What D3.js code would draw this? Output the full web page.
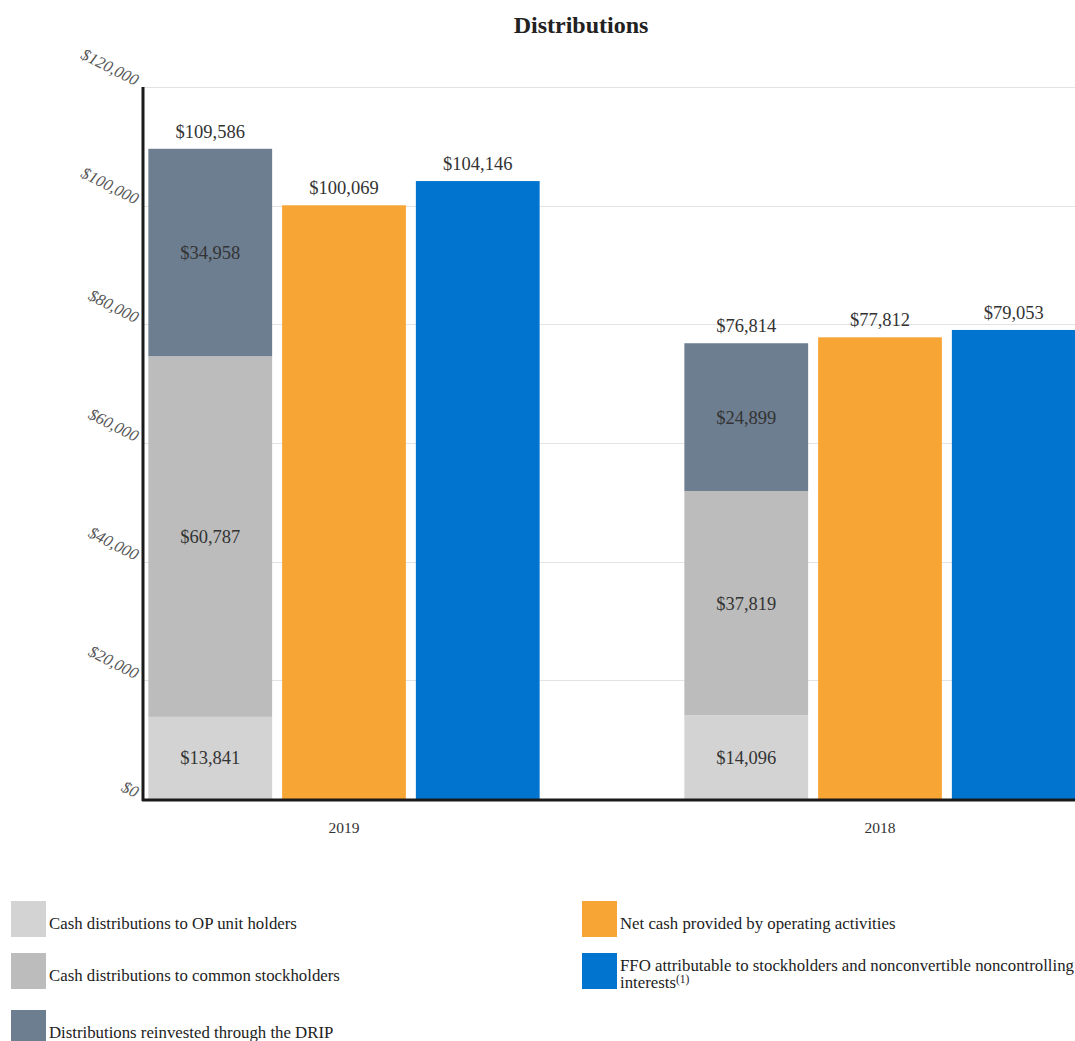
<!DOCTYPE html>
<html>
<head>
<meta charset="utf-8">
<script src="https://cdn.jsdelivr.net/npm/d3@7"></script>
<style>
  html, body { margin: 0; padding: 0; background: #fff; overflow: hidden; }
  svg { display: block; }
</style>
</head>
<body>
<div id="chart"></div>
<script>
// ---- Data ----
const years = ["2019", "2018"];
const opUnitHolders = [13841, 14096];
const commonStockholders = [60787, 37819];
const dripReinvested = [34958, 24899];
const stackTotals = [109586, 76814];
const netCashOperating = [100069, 77812];
const ffoAttributable = [104146, 79053];
const yTicks = [0, 20000, 40000, 60000, 80000, 100000, 120000];
const legendLabels = [
  "Cash distributions to OP unit holders",
  "Cash distributions to common stockholders",
  "Distributions reinvested through the DRIP",
  "Net cash provided by operating activities",
  "FFO attributable to stockholders and nonconvertible noncontrolling"
];

// ---- Setup ----
const W = 1075, H = 1041;
const colors = {
  op: "#d3d3d3",
  common: "#bcbcbc",
  drip: "#6d7e91",
  net: "#f7a535",
  ffo: "#0074cf"
};
const serif = "'Liberation Serif', 'Times New Roman', serif";
const labelSize = 18.5;

const svg = d3.select("#chart").append("svg")
  .attr("width", W).attr("height", H);

const y = d3.scaleLinear().domain([0, 120000]).range([799, 87]);
const x0 = d3.scaleBand().domain(years).range([143, 1081])
  .paddingInner(0.27).paddingOuter(0.01);
const x1 = d3.scaleBand().domain(["stack", "net", "ffo"])
  .range([0, x0.bandwidth()]).paddingInner(0.0746).paddingOuter(0);

// Title
svg.append("text")
  .attr("x", 581).attr("y", 33)
  .attr("text-anchor", "middle")
  .attr("font-family", serif).attr("font-weight", "bold")
  .attr("font-size", 24).attr("fill", "#222")
  .text("Distributions");

// Gridlines
svg.append("g").selectAll("line")
  .data(yTicks.filter(d => d > 0))
  .join("line")
  .attr("x1", 143).attr("x2", W)
  .attr("y1", d => Math.round(y(d)) + 0.5).attr("y2", d => Math.round(y(d)) + 0.5)
  .attr("stroke", "#e3e3e3").attr("stroke-width", 1);

// Y tick labels (rotated, italic)
svg.append("g").selectAll("text")
  .data(yTicks)
  .join("text")
  .attr("transform", d => `translate(135,${y(d) - 1}) rotate(27)`)
  .attr("text-anchor", "end")
  .attr("font-family", serif).attr("font-style", "italic")
  .attr("font-size", 16.5).attr("fill", "#555")
  .text(d => "$" + d3.format(",")(d));

// Stacked bars
const stackRows = years.map((yr, i) => ({
  year: yr, op: opUnitHolders[i], common: commonStockholders[i], drip: dripReinvested[i]
}));
const stacked = d3.stack().keys(["op", "common", "drip"])(stackRows);

const fmt = d => "$" + d3.format(",")(d);

const gStack = svg.append("g");
stacked.forEach(layer => {
  const key = layer.key;
  layer.forEach(seg => {
    const xPos = x0(seg.data.year) + x1("stack");
    gStack.append("rect")
      .attr("x", xPos).attr("width", x1.bandwidth())
      .attr("y", y(seg[1])).attr("height", y(seg[0]) - y(seg[1]))
      .attr("fill", colors[key]);
    gStack.append("text")
      .attr("x", xPos + x1.bandwidth() / 2)
      .attr("y", (y(seg[0]) + y(seg[1])) / 2)
      .attr("dy", "0.35em")
      .attr("text-anchor", "middle")
      .attr("font-family", serif).attr("font-size", labelSize).attr("fill", "#333")
      .text(fmt(seg[1] - seg[0]));
  });
});

// Stack totals
svg.append("g").selectAll("text")
  .data(years.map((yr, i) => ({ year: yr, v: stackTotals[i], top: stacked[2][i][1] })))
  .join("text")
  .attr("x", d => x0(d.year) + x1("stack") + x1.bandwidth() / 2)
  .attr("y", d => y(d.top) - 11)
  .attr("text-anchor", "middle")
  .attr("font-family", serif).attr("font-size", labelSize).attr("fill", "#333")
  .text(d => fmt(d.v));

// Simple bars
const simpleSeries = [
  { key: "net", values: netCashOperating },
  { key: "ffo", values: ffoAttributable }
];
simpleSeries.forEach(s => {
  const g = svg.append("g");
  const data = years.map((yr, i) => ({ year: yr, v: s.values[i] }));
  g.selectAll("rect").data(data).join("rect")
    .attr("x", d => x0(d.year) + x1(s.key))
    .attr("width", x1.bandwidth())
    .attr("y", d => y(d.v))
    .attr("height", d => y(0) - y(d.v))
    .attr("fill", colors[s.key]);
  g.selectAll("text").data(data).join("text")
    .attr("x", d => x0(d.year) + x1(s.key) + x1.bandwidth() / 2)
    .attr("y", d => y(d.v) - 11)
    .attr("text-anchor", "middle")
    .attr("font-family", serif).attr("font-size", labelSize).attr("fill", "#333")
    .text(d => fmt(d.v));
});

// Axes lines
svg.append("line")
  .attr("x1", 143).attr("x2", 143).attr("y1", 87).attr("y2", 801)
  .attr("stroke", "#1a1a1a").attr("stroke-width", 3);
svg.append("line")
  .attr("x1", 142).attr("x2", W).attr("y1", 800).attr("y2", 800)
  .attr("stroke", "#1a1a1a").attr("stroke-width", 3);

// X labels
svg.append("g").selectAll("text")
  .data(years).join("text")
  .attr("x", d => x0(d) + x0.bandwidth() / 2)
  .attr("y", 833)
  .attr("text-anchor", "middle")
  .attr("font-family", serif).attr("font-size", 15.5).attr("fill", "#333")
  .text(d => d);

// Legend
const legendItems = [
  { label: legendLabels[0], color: colors.op, x: 11, y: 901 },
  { label: legendLabels[1], color: colors.common, x: 11, y: 953 },
  { label: legendLabels[2], color: colors.drip, x: 11, y: 1010 },
  { label: legendLabels[3], color: colors.net, x: 582, y: 901 },
  { label: legendLabels[4], color: colors.ffo, x: 582, y: 953, second: true }
];
const lg = svg.append("g");
legendItems.forEach(it => {
  lg.append("rect")
    .attr("x", it.x).attr("y", it.y).attr("width", 35).attr("height", 36)
    .attr("fill", it.color);
  const t = lg.append("text")
    .attr("x", it.x + 38)
    .attr("y", it.second ? it.y + 18 : it.y + 28)
    .attr("font-family", serif).attr("font-size", 16.8).attr("fill", "#222")
    .text(it.label);
  if (it.second) {
    const t2 = lg.append("text")
      .attr("x", it.x + 38).attr("y", it.y + 35)
      .attr("font-family", serif).attr("font-size", 16.8).attr("fill", "#222");
    t2.append("tspan").text("interests");
    t2.append("tspan").attr("font-size", 11.5).attr("dy", -5).text("(1)");
  }
});
</script>
</body>
</html>
